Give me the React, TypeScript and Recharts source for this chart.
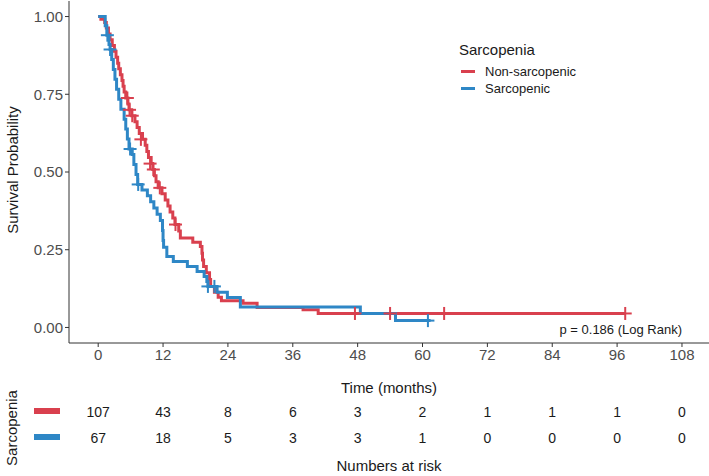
import { ComposedChart, Line, Scatter, XAxis, YAxis, Legend } from 'recharts'

// colours
const RED = '#D9404E'
const BLUE = '#2E87C6'
const AXIS = '#333333'
const TICK_TEXT = '#4D4D4D'
const FONT = '"Liberation Sans", Arial, sans-serif'

// axes
const TIME_TICKS = [0, 12, 24, 36, 48, 60, 72, 84, 96, 108]
const SURV_TICKS = [0, 0.25, 0.5, 0.75, 1]
const X_DOMAIN: [number, number] = [-5.4, 113]

// Non-sarcopenic KM curve (step times / survival)
const nonSarcTime = [
  0, 0.5, 1.2, 1.5, 1.9, 2.2, 2.6, 3.0, 3.3, 3.6, 3.8, 4.1, 4.4, 4.6, 4.8, 5.1, 5.5, 5.7,
  6.2, 6.8, 7.2, 7.6, 8.2, 8.7, 9.0, 9.3, 9.8, 10.1, 10.4, 10.7, 11.1, 11.8, 12.4, 12.9,
  13.3, 13.8, 14.2, 14.9, 15.2, 17.5, 18.9, 19.2, 19.3, 19.5, 20.0, 20.6, 20.8, 21.5,
  22.2, 22.8, 26.8, 29.4, 37.9, 40.7, 97.5,
]
const nonSarcSurv = [
  1.0, 0.991, 0.981, 0.963, 0.944, 0.925, 0.907, 0.888, 0.869, 0.85, 0.832, 0.813, 0.794,
  0.776, 0.757, 0.738, 0.719, 0.7, 0.681, 0.662, 0.643, 0.624, 0.605, 0.586, 0.566, 0.547,
  0.527, 0.508, 0.488, 0.469, 0.449, 0.43, 0.41, 0.391, 0.371, 0.352, 0.331, 0.31, 0.288,
  0.274, 0.26, 0.239, 0.217, 0.196, 0.176, 0.154, 0.132, 0.113, 0.097, 0.086, 0.078, 0.064,
  0.057, 0.045, 0.045,
]

// Sarcopenic KM curve
const sarcTime = [
  0, 1.3, 1.6, 2.0, 2.2, 2.5, 2.8, 3.1, 3.4, 3.8, 4.2, 4.8, 5.1, 5.4, 5.7, 6.3, 6.6, 7.0,
  7.3, 8.1, 9.1, 9.7, 10.3, 10.9, 11.5, 11.9, 12.0, 12.1, 12.7, 13.9, 16.5, 18.3, 19.6,
  20.1, 20.3, 22.0, 23.9, 26.3, 48.5, 55.0, 61.5,
]
const sarcSurv = [
  1.0, 0.97, 0.94, 0.91, 0.894, 0.862, 0.83, 0.798, 0.766, 0.734, 0.702, 0.67, 0.638, 0.606,
  0.574, 0.556, 0.524, 0.492, 0.46, 0.442, 0.424, 0.404, 0.384, 0.364, 0.344, 0.312, 0.28,
  0.258, 0.228, 0.212, 0.196, 0.18, 0.164, 0.148, 0.132, 0.113, 0.096, 0.066, 0.045, 0.022,
  0.022,
]

// censored observations
const nonSarcCensorTime = [5.4, 5.8, 6.3, 7.9, 9.6, 10.2, 11.4, 14.3, 47.5, 54, 64, 97.5]
const nonSarcCensorSurv = [0.738, 0.7, 0.681, 0.605, 0.527, 0.508, 0.449, 0.331, 0.045, 0.045, 0.045, 0.045]
const sarcCensorTime = [1.7, 2.2, 5.9, 7.4, 20.3, 21.5, 61]
const sarcCensorSurv = [0.94, 0.894, 0.574, 0.46, 0.132, 0.132, 0.022]

// numbers at risk
const nonSarcRisk = [107, 43, 8, 6, 3, 2, 1, 1, 1, 0]
const sarcRisk = [67, 18, 5, 3, 3, 1, 0, 0, 0, 0]

const zip = (t: number[], s: number[]) => t.map((v, i) => ({ t: v, s: s[i] }))

const nonSarcData = zip(nonSarcTime, nonSarcSurv)
const sarcData = zip(sarcTime, sarcSurv)
const nonSarcCensor = zip(nonSarcCensorTime, nonSarcCensorSurv)
const sarcCensor = zip(sarcCensorTime, sarcCensorSurv)

// rows of the risk table: 2 = Non-sarcopenic, 1 = Sarcopenic
const riskData = [
  ...TIME_TICKS.map((t, i) => ({ t, row: 2, n: nonSarcRisk[i] })),
  ...TIME_TICKS.map((t, i) => ({ t, row: 1, n: sarcRisk[i] })),
]

const censorShape = (color: string) => (props: any) => {
  const { cx, cy } = props
  return (
    <g stroke={color} strokeWidth={2}>
      <line x1={cx - 6.5} y1={cy} x2={cx + 6.5} y2={cy} />
      <line x1={cx} y1={cy - 6.5} x2={cx} y2={cy + 6.5} />
    </g>
  )
}

const riskText = (props: any) => {
  const { cx, cy, payload } = props
  return (
    <text x={cx} y={cy} dy="0.35em" textAnchor="middle" fontSize={14} fill="#1a1a1a">
      {payload.n}
    </text>
  )
}

const renderLegend = (props: any) => {
  const items = (props.payload || []).filter((p: any) => p.type !== 'none')
  return (
    <div style={{ fontFamily: FONT, color: '#1a1a1a' }}>
      <div style={{ fontSize: 15, lineHeight: '18px', marginBottom: 4 }}>Sarcopenia</div>
      {items.map((p: any) => (
        <div key={p.value} style={{ display: 'flex', alignItems: 'center', height: 17, fontSize: 13 }}>
          <span style={{ width: 14, height: 3, background: p.color, marginLeft: 2, marginRight: 10 }} />
          {p.value}
        </div>
      ))}
    </div>
  )
}

export default function App() {
  return (
    <div style={{ position: 'absolute', left: 0, top: 0, width: 709, height: 476, background: '#fff', fontFamily: FONT }}>
      <ComposedChart width={709} height={476} margin={{ top: 1, right: 0, left: 0, bottom: 0 }}>
        <XAxis
          dataKey="t"
          type="number"
          domain={X_DOMAIN}
          ticks={TIME_TICKS}
          allowDataOverflow
          height={133}
          tickSize={4}
          stroke={AXIS}
          tick={{ fontSize: 15, fill: TICK_TEXT }}
        />
        <YAxis
          type="number"
          domain={[-0.05, 1.05]}
          ticks={SURV_TICKS}
          allowDataOverflow
          width={69}
          tickSize={4}
          stroke={AXIS}
          tick={{ fontSize: 15, fill: TICK_TEXT }}
          tickFormatter={(v: number) => v.toFixed(2)}
        />
        <Legend
          layout="vertical"
          align="center"
          verticalAlign="middle"
          content={renderLegend}
          wrapperStyle={{ left: 459, top: 41, width: 140 }}
        />
        <Line
          data={nonSarcData}
          dataKey="s"
          name="Non-sarcopenic"
          type="stepAfter"
          stroke={RED}
          strokeWidth={3}
          dot={false}
          activeDot={false}
          isAnimationActive={false}
        />
        <Line
          data={sarcData}
          dataKey="s"
          name="Sarcopenic"
          type="stepAfter"
          stroke={BLUE}
          strokeWidth={3}
          dot={false}
          activeDot={false}
          isAnimationActive={false}
        />
        <Scatter data={nonSarcCensor} dataKey="s" legendType="none" shape={censorShape(RED)} isAnimationActive={false} />
        <Scatter data={sarcCensor} dataKey="s" legendType="none" shape={censorShape(BLUE)} isAnimationActive={false} />
      </ComposedChart>

      {/* numbers at risk table, on the same time scale */}
      <div style={{ position: 'absolute', left: 0, top: 385 }}>
        <ComposedChart width={709} height={80} margin={{ top: 0, right: 0, left: 69, bottom: 0 }}>
          <XAxis dataKey="t" type="number" domain={X_DOMAIN} hide />
          <YAxis dataKey="row" type="number" domain={[0, 3]} hide />
          <Scatter data={riskData} dataKey="row" shape={riskText} isAnimationActive={false} />
        </ComposedChart>
      </div>

      <svg width={709} height={476} style={{ position: 'absolute', left: 0, top: 0, pointerEvents: 'none' }}>
        <text x={13} y={170} transform="rotate(-90 13 170)" textAnchor="middle" dy="0.35em" fontSize={15} fill="#1a1a1a">
          Survival Probability
        </text>
        <text x={682} y={329} textAnchor="end" dy="0.35em" fontSize={13} fill="#1a1a1a">
          p = 0.186 (Log Rank)
        </text>
        <text x={389} y={388} textAnchor="middle" dy="0.35em" fontSize={15} fill="#1a1a1a">
          Time (months)
        </text>
        <text x={389} y={466} textAnchor="middle" dy="0.35em" fontSize={15} fill="#1a1a1a">
          Numbers at risk
        </text>
        <text x={12} y={428} transform="rotate(-90 12 428)" textAnchor="middle" dy="0.35em" fontSize={15} fill="#1a1a1a">
          Sarcopenia
        </text>
        <rect x={34} y={408} width={26} height={6} fill={RED} />
        <rect x={34} y={434} width={26} height={6} fill={BLUE} />
      </svg>
    </div>
  )
}
